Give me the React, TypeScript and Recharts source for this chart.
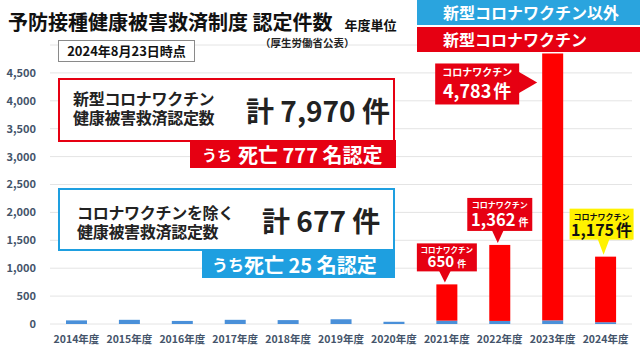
import type { FC } from "react";
import { Bar, BarChart, CartesianGrid, XAxis, YAxis } from "recharts";

const years = [
  "2014年度",
  "2015年度",
  "2016年度",
  "2017年度",
  "2018年度",
  "2019年度",
  "2020年度",
  "2021年度",
  "2022年度",
  "2023年度",
  "2024年度",
];
const otherVaccines = [65, 75, 55, 75, 70, 85, 40, 60, 55, 65, 32];
const covidVaccine = [0, 0, 0, 0, 0, 0, 0, 650, 1362, 4783, 1175];
const yTicks = [0, 500, 1000, 1500, 2000, 2500, 3000, 3500, 4000, 4500];
const otherName = "新型コロナワクチン以外";
const covidName = "新型コロナワクチン";

const data = years.map((year, i) => ({
  year,
  other: otherVaccines[i],
  covid: covidVaccine[i],
}));

const FONT = '"Noto Sans CJK JP", "Noto Sans", sans-serif';
const RED = "#e60012";
const BLUE = "#1e9fe0";

// callout look per year (position is taken from the bar itself)
type CalloutStyle = {
  w: number;
  h: number;
  dx: number;
  gap: number;
  fill: string;
  color: string;
  small: number;
  num: number;
  unit: number;
  smallY: number; // baselines, from box top
  numY: number;
  side: "top" | "left";
};

const calloutStyles: Record<string, CalloutStyle> = {
  "2021年度": { w: 60, h: 28, dx: 0, gap: 11, fill: RED, color: "#fff", small: 7.5, num: 15, unit: 9, smallY: 9.5, numY: 23.5, side: "top" },
  "2022年度": { w: 65, h: 33, dx: 0, gap: 12, fill: RED, color: "#fff", small: 8, num: 16.5, unit: 10, smallY: 10, numY: 28, side: "top" },
  "2023年度": { w: 84, h: 41, dx: 0, gap: 23, fill: RED, color: "#fff", small: 10, num: 18, unit: 18, smallY: 13, numY: 34.5, side: "left" },
  "2024年度": { w: 64, h: 31, dx: -4, gap: 15, fill: "#fff200", color: "#111", small: 8, num: 16, unit: 16, smallY: 11, numY: 27.5, side: "top" },
};

// red bar + its callout
const CovidBar = (props: any) => {
  const { x, y, width, height, fill, payload } = props;
  if (!payload || !payload.covid || !height) return null;
  const s = calloutStyles[payload.year];
  const bar = <rect x={x} y={y} width={width} height={height} fill={fill} />;
  if (!s) return bar;

  const cx = x + width / 2;
  let bx: number;
  let by: number;
  let arrow: string;
  if (s.side === "top") {
    const tipY = y - 2;
    by = tipY - s.gap - s.h;
    bx = cx + s.dx - s.w / 2;
    const ax = cx - 2;
    arrow = `${ax - 6},${by + s.h - 1} ${ax + 6},${by + s.h - 1} ${ax},${tipY}`;
  } else {
    by = y + 10;
    bx = x - 5 - 18 - s.w;
    const cy = by + 19;
    arrow = `${bx + s.w - 1},${cy - 11} ${bx + s.w - 1},${cy + 11} ${x - 5},${cy}`;
  }
  const tx = bx + s.w / 2;

  return (
    <g>
      {bar}
      <rect x={bx} y={by} width={s.w} height={s.h} fill={s.fill} />
      <polygon points={arrow} fill={s.fill} />
      <text fill={s.color} fontWeight={700} textAnchor="middle">
        <tspan x={tx} y={by + s.smallY} fontSize={s.small}>
          コロナワクチン
        </tspan>
        <tspan x={tx} y={by + s.numY} fontSize={s.num}>
          {payload.covid.toLocaleString("en-US")}
          <tspan fontSize={s.unit} dx={s.unit < s.num ? 3 : 2}>
            件
          </tspan>
        </tspan>
      </text>
    </g>
  );
};

const abs = (left: number, top: number, extra: object = {}) => ({
  position: "absolute" as const,
  left,
  top,
  ...extra,
});

const legendRow = (bg: string) => ({
  height: 25,
  marginBottom: 2,
  background: bg,
  color: "#fff",
  fontWeight: 700,
  fontSize: 16,
  lineHeight: "25px",
  paddingLeft: 26,
});

const lineText = { fontSize: 16, fontWeight: 700, lineHeight: "18px", color: "#222", whiteSpace: "nowrap", letterSpacing: -0.3 };
const bigText = { fontSize: 28, fontWeight: 700, lineHeight: "32px", color: "#222", whiteSpace: "nowrap" };

const SummaryBoxes: FC = () => (
  <>
    {/* covid summary */}
    <div style={abs(58, 78, { width: 337, height: 64, border: `2.5px solid ${RED}`, boxSizing: "border-box", background: "#fff" })} />
    <div style={abs(73, 89, lineText)}>新型コロナワクチン</div>
    <div style={abs(73, 108, lineText)}>健康被害救済認定数</div>
    <div style={abs(246, 94, bigText)}>計 7,970 件</div>
    <div
      style={abs(190, 140, {
        width: 206,
        height: 28,
        background: RED,
        color: "#fff",
        fontWeight: 700,
        display: "flex",
        alignItems: "center",
        paddingLeft: 12,
        boxSizing: "border-box",
        whiteSpace: "nowrap",
      })}
    >
      <span style={{ fontSize: 15 }}>うち</span>
      <span style={{ fontSize: 20, marginLeft: 6 }}>死亡 777 名認定</span>
    </div>

    {/* non covid summary */}
    <div style={abs(58, 188, { width: 337, height: 63, border: `2.5px solid ${BLUE}`, boxSizing: "border-box", background: "#fff" })} />
    <div style={abs(77, 203, lineText)}>コロナワクチンを除く</div>
    <div style={abs(77, 222, lineText)}>健康被害救済認定数</div>
    <div style={abs(262, 204, bigText)}>計 677 件</div>
    <div
      style={abs(202, 250, {
        width: 193,
        height: 28,
        background: BLUE,
        color: "#fff",
        fontWeight: 700,
        display: "flex",
        alignItems: "center",
        paddingLeft: 10,
        boxSizing: "border-box",
        whiteSpace: "nowrap",
      })}
    >
      <span style={{ fontSize: 16 }}>うち</span>
      <span style={{ fontSize: 20 }}>死亡 25 名認定</span>
    </div>
  </>
);

const App: FC = () => {
  return (
    <div
      style={{
        position: "absolute",
        left: 0,
        top: 0,
        width: 640,
        height: 360,
        background: "#fff",
        fontFamily: FONT,
        overflow: "hidden",
      }}
    >
      <BarChart
        width={640}
        height={360}
        data={data}
        margin={{ top: 45, right: 8, left: 0, bottom: 6 }}
        barSize={21}
      >
        <CartesianGrid vertical={false} stroke="#e4e4e4" />
        <XAxis
          dataKey="year"
          height={30}
          axisLine={false}
          tickLine={false}
          tickMargin={6}
          interval={0}
          tick={{ fontSize: 10.5, fill: "#44546a", fontWeight: 700 }}
        />
        <YAxis
          width={50}
          domain={[0, 5000]}
          ticks={yTicks}
          axisLine={false}
          tickLine={false}
          tickMargin={8}
          tickFormatter={(v: number) => v.toLocaleString("en-US")}
          tick={{ fontSize: 11, fill: "#44546a", fontWeight: 700 }}
        />
        <Bar
          dataKey="other"
          name={otherName}
          stackId="a"
          fill="#4a90d9"
          isAnimationActive={false}
        />
        <Bar
          dataKey="covid"
          name={covidName}
          stackId="a"
          fill="#ff0000"
          shape={(p: any) => <CovidBar {...p} />}
          isAnimationActive={false}
        />
      </BarChart>

      {/* legend */}
      <div style={abs(417, 0, { width: 223 })}>
        <div style={legendRow("#2aa4de")}>{otherName}</div>
        <div style={legendRow(RED)}>{covidName}</div>
      </div>

      <div style={abs(8, 8, { fontSize: 20, fontWeight: 700, lineHeight: "28px", color: "#111", whiteSpace: "nowrap" })}>
        予防接種健康被害救済制度 認定件数
        <span style={{ fontSize: 13, marginLeft: 12 }}>年度単位</span>
      </div>
      <div style={abs(260, 35, { fontSize: 10.5, fontWeight: 700, color: "#222", whiteSpace: "nowrap" })}>
        （厚生労働省公表）
      </div>
      <div
        style={abs(58, 40, {
          width: 137,
          height: 22,
          border: "1px solid #8a8a8a",
          boxSizing: "border-box",
          fontSize: 13,
          fontWeight: 700,
          lineHeight: "20px",
          textAlign: "center",
          color: "#111",
          background: "#fff",
        })}
      >
        2024年8月23日時点
      </div>

      <SummaryBoxes />
    </div>
  );
};

export default App;
